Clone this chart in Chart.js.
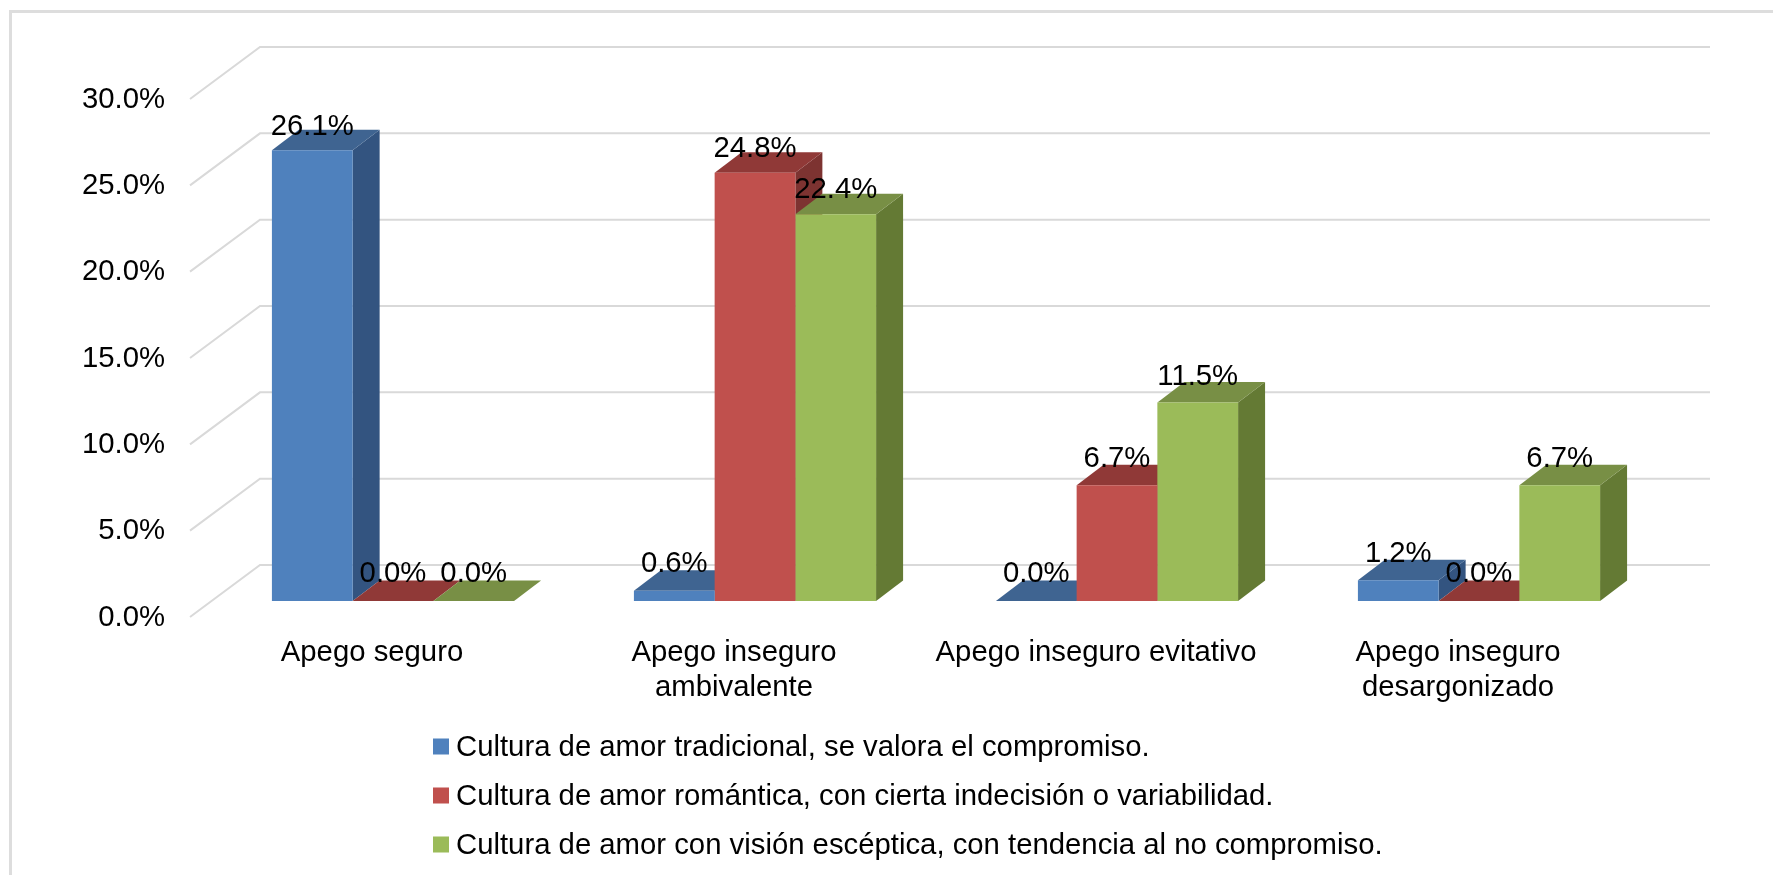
<!DOCTYPE html>
<html><head><meta charset="utf-8">
<script src="https://cdn.jsdelivr.net/npm/chart.js@4"></script>
<style>html,body{margin:0;padding:0;background:#fff}#w{position:relative;width:1773px;height:875px;overflow:hidden}
canvas{display:block;filter:blur(0.6px)}</style></head>
<body><div id="w"><canvas id="c" width="1773" height="875"></canvas></div>
<script>
const categories = [["Apego seguro"], ["Apego inseguro","ambivalente"], ["Apego inseguro evitativo"], ["Apego inseguro","desargonizado"]];
const tradicional = [26.1, 0.6, 0.0, 1.2];
const romantica = [0.0, 24.8, 6.7, 0.0];
const esceptica = [0.0, 22.4, 11.5, 6.7];
const seriesNames = [
  "Cultura de amor tradicional, se valora el compromiso.",
  "Cultura de amor romántica, con cierta indecisión o variabilidad.",
  "Cultura de amor con visión escéptica, con tendencia al no compromiso."
];
const FONT = '"Liberation Sans", Arial, sans-serif';
const FONT_SIZE = 29.3;
const front = ["#4F81BD", "#C0504D", "#9BBB59"];
const side = ["#335480", "#7D3331", "#647A34"];
const top_ = ["#3F6491", "#903937", "#788F45"];
const BAR_DX = 27, BAR_DY = 20.5;
const WALL_FRONT = {dx: -22, dy: 16}, WALL_BACK = {dx: 48, dy: -36};
const GRID = "#D9D9D9";

const depthPlugin = {
  id: "depth",
  beforeDraw(chart) {
    const ctx = chart.ctx;
    ctx.save();
    ctx.strokeStyle = "#DDDDDD"; ctx.lineWidth = 3;
    ctx.beginPath();
    ctx.moveTo(10.5, 875); ctx.lineTo(10.5, 11.5); ctx.lineTo(1773, 11.5);
    ctx.stroke();
    ctx.restore();
  },
  beforeDatasetsDraw(chart) {
    const ctx = chart.ctx, y = chart.scales.y, a = chart.chartArea;
    ctx.save();
    ctx.strokeStyle = GRID; ctx.lineWidth = 2;
    y.ticks.forEach(t => {
      const p = y.getPixelForValue(t.value);
      ctx.beginPath();
      ctx.moveTo(a.left + WALL_FRONT.dx, p + WALL_FRONT.dy);
      ctx.lineTo(a.left + WALL_BACK.dx, p + WALL_BACK.dy);
      ctx.lineTo(a.right + WALL_BACK.dx + 2, p + WALL_BACK.dy);
      ctx.stroke();
    });
    // side and top faces, back to front; the library then paints the front faces over them
    chart.data.datasets.forEach((d, i) => {
      chart.getDatasetMeta(i).data.forEach(b => {
        const l = b.x - b.width / 2, r = b.x + b.width / 2;
        ctx.fillStyle = side[i];
        ctx.beginPath();
        ctx.moveTo(r, b.y); ctx.lineTo(r + BAR_DX, b.y - BAR_DY);
        ctx.lineTo(r + BAR_DX, b.base - BAR_DY); ctx.lineTo(r, b.base);
        ctx.closePath(); ctx.fill();
        ctx.fillStyle = top_[i];
        ctx.beginPath();
        ctx.moveTo(l, b.y); ctx.lineTo(l + BAR_DX, b.y - BAR_DY);
        ctx.lineTo(r + BAR_DX, b.y - BAR_DY); ctx.lineTo(r, b.y);
        ctx.closePath(); ctx.fill();
      });
    });
    ctx.restore();
  },
  afterDatasetsDraw(chart) {
    const ctx = chart.ctx;
    ctx.save();
    ctx.font = FONT_SIZE + "px " + FONT;
    ctx.fillStyle = "#000";
    ctx.textAlign = "center"; ctx.textBaseline = "middle";
    chart.data.datasets.forEach((d, i) => {
      chart.getDatasetMeta(i).data.forEach((b, j) => {
        ctx.fillText(d.data[j].toFixed(1) + "%", b.x, b.y - 27 + d.data[j] * 0.13);
      });
    });
    ctx.restore();
  },
  afterDraw(chart) {
    const ctx = chart.ctx;
    ctx.save();
    ctx.font = FONT_SIZE + "px " + FONT;
    ctx.textBaseline = "middle";
    chart.data.datasets.forEach((d, i) => {
      const cy = 746.5 + i * 49;
      ctx.fillStyle = front[i];
      ctx.fillRect(433, cy - 8, 16, 16);
      ctx.fillStyle = "#000";
      ctx.fillText(d.label, 456, cy + 1);
    });
    ctx.restore();
  }
};

new Chart(document.getElementById("c"), {
  type: "bar",
  data: {
    labels: categories,
    datasets: [
      {label: seriesNames[0], data: tradicional, backgroundColor: front[0]},
      {label: seriesNames[1], data: romantica, backgroundColor: front[1]},
      {label: seriesNames[2], data: esceptica, backgroundColor: front[2]}
    ]
  },
  options: {
    responsive: false, animation: false,
    layout: {padding: {top: 83, right: 113, left: 0, bottom: 0}},
    datasets: {bar: {categoryPercentage: 0.669, barPercentage: 1, borderWidth: 0}},
    plugins: {legend: {display: false}, tooltip: {enabled: false}, title: {display: false}},
    scales: {
      x: {
        grid: {display: false, drawTicks: false}, border: {display: false},
        afterFit(s) { s.height = 274; },
        ticks: {color: "#000", font: {family: FONT, size: FONT_SIZE, lineHeight: 1.195}, padding: 34, labelOffset: -21, autoSkip: false, maxRotation: 0, minRotation: 0}
      },
      y: {
        min: 0, max: 30,
        grid: {display: false, drawTicks: false}, border: {display: false},
        afterFit(s) { s.width = 212; },
        ticks: {stepSize: 5, color: "#000", font: {family: FONT, size: FONT_SIZE}, padding: 47, labelOffset: 16.5, callback: v => v.toFixed(1) + "%"}
      }
    }
  },
  plugins: [depthPlugin]
});
</script></body></html>
